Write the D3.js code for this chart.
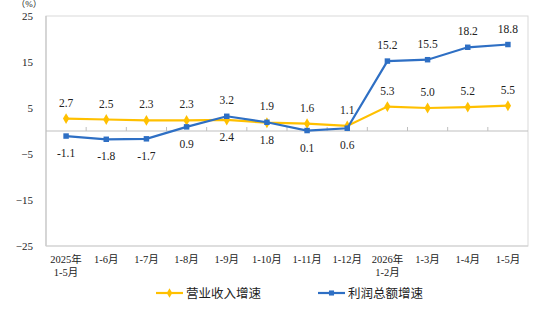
<!DOCTYPE html>
<html lang="zh">
<head>
<meta charset="UTF-8">
<title>营业收入与利润总额增速</title>
<script src="https://cdn.jsdelivr.net/npm/d3@7"></script>
<style>
  body { margin: 0; background: #fff; }
  text { font-family: "Liberation Serif", "Times New Roman", "Noto Sans CJK SC", serif; fill: #222; }
</style>
</head>
<body>
<div id="chart"></div>
<script>
// categories (two line labels)
var months = [
  ["2025年", "1-5月"], ["1-6月"], ["1-7月"], ["1-8月"], ["1-9月"], ["1-10月"],
  ["1-11月"], ["1-12月"], ["2026年", "1-2月"], ["1-3月"], ["1-4月"], ["1-5月"]
]
var revenue = [2.7, 2.5, 2.3, 2.3, 2.4, 1.8, 1.6, 1.1, 5.3, 5.0, 5.2, 5.5]
var profit = [-1.1, -1.8, -1.7, 0.9, 3.2, 1.9, 0.1, 0.6, 15.2, 15.5, 18.2, 18.8]
var yTicks = [25, 15, 5, -5, -15, -25]

var width = 541, height = 317
var margin = {top: 16, right: 13, bottom: 71, left: 46}
var innerW = width - margin.left - margin.right
var innerH = height - margin.top - margin.bottom

var orange = "#ffc000", blue = "#2e6fc4"

var svg = d3.select("#chart").append("svg")
    .attr("width", width)
    .attr("height", height)

var g = svg.append("g")
    .attr("transform", "translate(" + margin.left + "," + margin.top + ")")

var x = d3.scaleBand()
    .domain(d3.range(months.length))
    .range([0, innerW])

var y = d3.scaleLinear()
    .domain([-25, 25])
    .range([innerH, 0])

// plot frame (top / right light gray, left + bottom a bit darker)
g.append("rect")
    .attr("width", innerW).attr("height", innerH)
    .attr("fill", "none").attr("stroke", "#d9d9d9")
g.append("line")
    .attr("x1", 0).attr("x2", 0).attr("y1", 0).attr("y2", innerH)
    .attr("stroke", "#bfbfbf")
g.append("line")
    .attr("x1", 0).attr("x2", innerW).attr("y1", innerH).attr("y2", innerH)
    .attr("stroke", "#d0d0d0")

// y axis labels
var yAxis = g.append("g")
    .call(d3.axisLeft(y).tickValues(yTicks).tickSize(0).tickPadding(13))
yAxis.select(".domain").remove()
yAxis.selectAll("text").style("font-size", "11px").attr("fill", "#222")

svg.append("text")
    .attr("x", 29).attr("y", 7)
    .attr("text-anchor", "middle")
    .style("font-size", "9px")
    .text("（%）")

// zero line with category separators
g.append("line")
    .attr("x1", 0).attr("x2", innerW)
    .attr("y1", y(0)).attr("y2", y(0))
    .attr("stroke", "#bfbfbf")
g.selectAll(".sep")
    .data(d3.range(1, months.length))
    .enter().append("line")
    .attr("x1", function(d) { return x(d) })
    .attr("x2", function(d) { return x(d) })
    .attr("y1", y(0) - 4).attr("y2", y(0))
    .attr("stroke", "#bfbfbf")

// x labels
var xl = g.selectAll(".xl")
    .data(months)
    .enter().append("text")
    .attr("text-anchor", "middle")
    .attr("transform", function(d, i) {
        return "translate(" + (x(i) + x.bandwidth() / 2) + "," + (innerH + 17) + ")"
    })
    .style("font-size", "10.5px")
xl.selectAll("tspan")
    .data(function(d) { return d })
    .enter().append("tspan")
    .attr("x", 0)
    .attr("dy", function(d, i) { return i == 0 ? 0 : 13 })
    .text(function(d) { return d })

var cx = function(d, i) { return x(i) + x.bandwidth() / 2 }

var line = d3.line()
    .x(cx)
    .y(function(d) { return y(d) })

function drawSeries(data, color, symbol, above) {
    g.append("path")
        .datum(data)
        .attr("fill", "none")
        .attr("stroke", color)
        .attr("stroke-width", 2.2)
        .attr("d", line)
    g.selectAll(null)
        .data(data)
        .enter().append("path")
        .attr("transform", function(d, i) { return "translate(" + cx(d, i) + "," + y(d) + ")" })
        .attr("d", d3.symbol().type(symbol).size(symbol == d3.symbolDiamond ? 34 : 30))
        .attr("fill", color)
    g.selectAll(null)
        .data(data)
        .enter().append("text")
        .attr("x", cx)
        .attr("y", function(d, i) { return y(d) + (above[i] ? -12 : 21) })
        .attr("text-anchor", "middle")
        .style("font-size", "11.5px")
        .text(function(d) { return d.toFixed(1) })
}

// label goes under the line only where the other series sits just above it
var profitAbove = profit.map(function(d, i) { return d > revenue[i] })
var revenueAbove = revenue.map(function(d, i) { return !(profit[i] > d && profit[i] - d < 5) })

drawSeries(revenue, orange, d3.symbolDiamond, revenueAbove)
drawSeries(profit, blue, d3.symbolSquare, profitAbove)

// legend
var legend = [
    {name: "营业收入增速", color: orange, sym: d3.symbolDiamond, x: 156},
    {name: "利润总额增速", color: blue, sym: d3.symbolSquare, x: 318}
]
var lg = svg.selectAll(".lg")
    .data(legend)
    .enter().append("g")
    .attr("transform", function(d) { return "translate(" + d.x + ",293)" })
lg.append("line")
    .attr("x1", 0).attr("x2", 27)
    .attr("stroke", function(d) { return d.color })
    .attr("stroke-width", 2.2)
lg.append("path")
    .attr("transform", "translate(13.5,0)")
    .attr("d", function(d) { return d3.symbol().type(d.sym).size(26)() })
    .attr("fill", function(d) { return d.color })
lg.append("text")
    .attr("x", 30).attr("y", 4.5)
    .style("font-size", "12.5px")
    .text(function(d) { return d.name })
</script>
</body>
</html>
